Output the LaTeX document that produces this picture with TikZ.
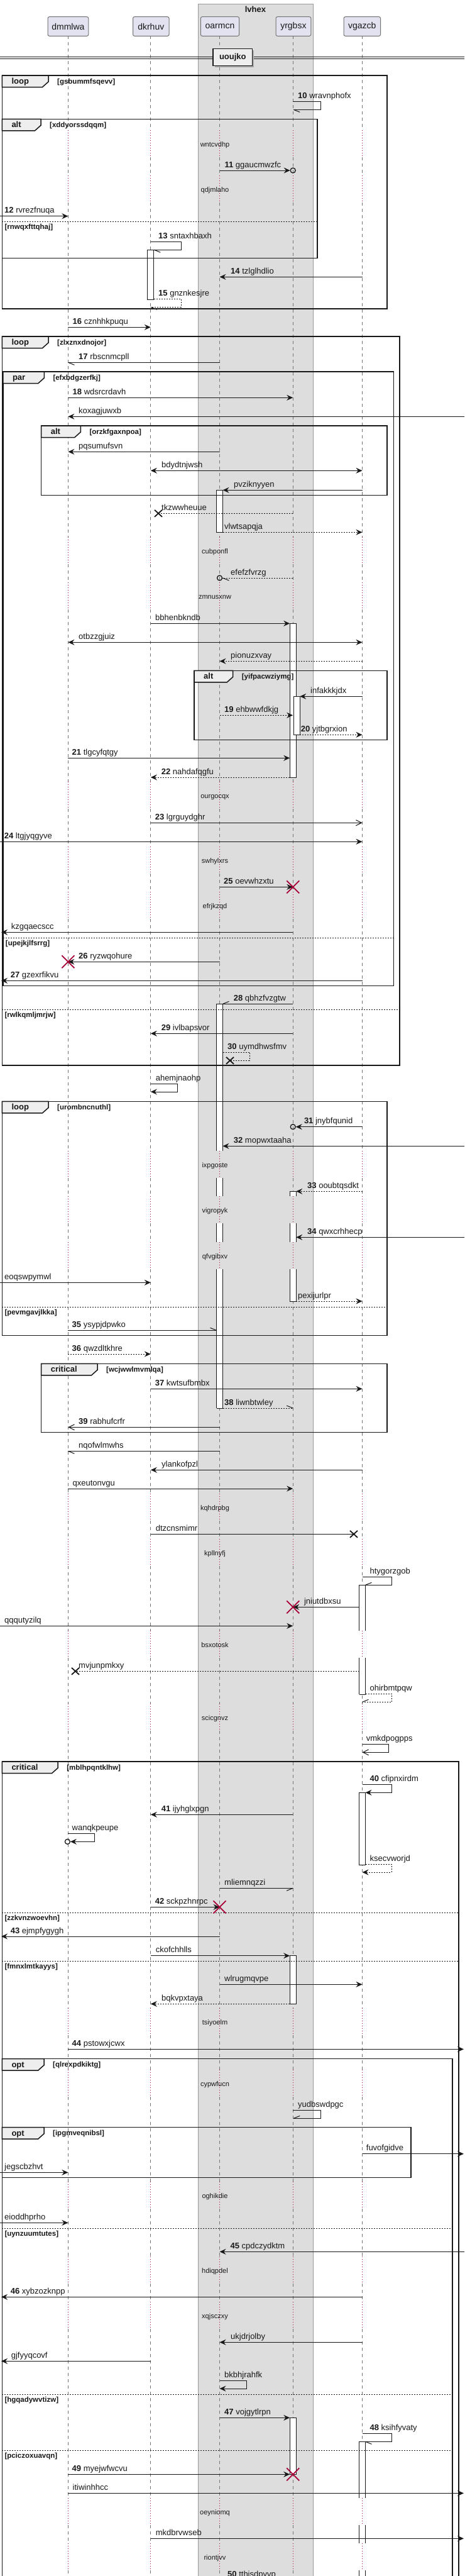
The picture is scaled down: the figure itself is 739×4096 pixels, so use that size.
\documentclass[tikz,border=0pt]{standalone}
\usepackage{fontspec}
\setmainfont{Liberation Sans}
\usetikzlibrary{arrows.meta}
\definecolor{lc}{HTML}{181818}
\definecolor{crim}{HTML}{A80036}
\definecolor{partc}{HTML}{E2E2F0}
\definecolor{boxc}{HTML}{DDDDDD}
\definecolor{tabc}{HTML}{EEEEEE}
\newcommand\fMsg{\fontsize{13}{15}\selectfont}
\newcommand\fDel{\fontsize{11}{13}\selectfont}
\newcommand\fFrm{\bfseries\fontsize{13}{15}\selectfont}
\newcommand\fCond{\bfseries\fontsize{11.5}{13}\selectfont}
\newcommand\fPart{\fontsize{14}{16}\selectfont}
\newcommand\fTitle{\bfseries\fontsize{13}{15}\selectfont}
\def\xA{108.4}
\def\xB{239.8}
\def\xC{349.5}
\def\xD{466.2}
\def\xE{576.5}
\tikzset{
 mlab/.style={font=\fMsg,inner sep=0pt,text=lc},
 dlab/.style={font=\fDel,inner sep=0pt,text=lc},
 flab/.style={font=\fFrm,inner sep=0pt,text=lc},
 clab/.style={font=\fCond,inner sep=0pt,text=lc},
 msgl/.style={draw=lc,line width=1pt},
 dsh/.style={dash pattern=on 2pt off 2pt},
 fa/.style={-{Stealth[length=10pt,width=9pt,inset=3.5pt]}},
 ba/.style={{Stealth[length=10pt,width=9pt,inset=3.5pt]}-{Stealth[length=10pt,width=9pt,inset=3.5pt]}},
 oa/.style={-{Straight Barb[length=9pt,width=9pt]}},
 frm/.style={draw=lc,line width=1.5pt},
 frmelse/.style={draw=lc,line width=1pt,dash pattern=on 2pt off 2pt},
 life/.style={draw=black!55,line width=1pt,dash pattern=on 5pt off 5pt},
 dly/.style={draw=crim,line width=1pt,dash pattern=on 1pt off 3pt},
 actl/.style={draw=lc,line width=1pt},
 rx/.style={draw=crim,line width=1.8pt},
 bx/.style={draw=lc,line width=1.8pt},
 circ/.style={draw=lc,line width=1.3pt},
 part/.style={draw=black!55,line width=1pt,fill=partc,rounded corners=2.5pt,font=\fPart,text=lc,inner sep=0pt,minimum height=30.6pt},
}
\newcommand\qML[4]{\node[mlab,anchor=base west] (#1) at (#2,#3-5) {#4};}
\newcommand\qDL[3]{\node[dlab,anchor=base] (#1) at (342,#2+4) {#3};}
\newcommand\qRX[2]{\draw[rx] (#1-10,#2-10) -- (#1+10,#2+10) (#1-10,#2+10) -- (#1+10,#2-10);}
\newcommand\qBX[2]{\draw[bx] (#1-6,#2-5.5) -- (#1+6,#2+5.5) (#1-6,#2+5.5) -- (#1+6,#2-5.5);}
\newcommand\qTK[4]{\draw[msgl] (#1,#2) -- ++(#3,#4);}
% activation: xleft ytop ybottom, closed
\newcommand\qACT[3]{\filldraw[actl,fill=white] (#1,#2) rectangle (#1+10,#3);}
% open segment (sides only)
\newcommand\qACTO[3]{\fill[white] (#1,#2) rectangle (#1+10,#3); \draw[actl] (#1,#2) -- (#1,#3) (#1+10,#2) -- (#1+10,#3);}
\newcommand\qHL[2]{\draw[actl] (#1,#2) -- (#1+10,#2);}
\newcommand\qFR[8]{%
  \draw[frm] (#2,#3) rectangle (#4,#5);
  \filldraw[frm,fill=tabc] (#2,#3) -- (#6,#3) -- (#6,#3+10) -- (#6-9.5,#3+18.5) -- (#2,#3+18.5) -- cycle;
  \node[flab,anchor=base west] (#1k) at (#2+15,#3+13.5) {#7};
  \node[clab,anchor=base west] (#1c) at (#6+14,#3+13) {[#8]};}
\newcommand\qEL[5]{\draw[frmelse] (#2,#4) -- (#3,#4); \node[clab,anchor=base west] (#1) at (#2+4,#4+12.2) {[#5]};}
\begin{document}
\begin{tikzpicture}[x=1pt,y=-1pt]
\useasboundingbox (0,0) rectangle (739,4096);
\fill[white] (0,0) rectangle (739,4096);
% box lvhex
\filldraw[fill=boxc,draw=black!40,line width=1pt] (315,6) rectangle (498,4120);
\node[font=\fTitle,text=lc,anchor=base,inner sep=0pt] (lvt) at (406.5,19) {lvhex};
% lifelines
\foreach \lx in {\xA,\xB,\xC,\xD,\xE} {
 \foreach \ya/\yb in {57.3/207.3, 250.3/279.3, 322.3/854.3, 897.3/926.3, 969.3/1243.3, 1286.3/1346, 1389/1418.3, 1461.3/1830.3, 1873.3/1902.3, 1945.3/1975.3, 2018.3/2375, 2418/2447.3, 2490.3/2593, 2636/2709.3, 2752.3/3193.3, 3236.3/3291.3, 3334.3/3469, 3512/3588.3, 3631.3/3660.3, 3703.3/3972.3, 4015.3/4044, 4087/4110}
  \draw[life] (\lx,\ya) -- (\lx,\yb);
 \foreach \ya/\yb in {207.3/250.3, 279.3/322.3, 854.3/897.3, 926.3/969.3, 1243.3/1286.3, 1346/1389, 1418.3/1461.3, 1830.3/1873.3, 1902.3/1945.3, 1975.3/2018.3, 2375/2418, 2447.3/2490.3, 2593/2636, 2709.3/2752.3, 3193.3/3236.3, 3291.3/3334.3, 3469/3512, 3588.3/3631.3, 3660.3/3703.3, 3972.3/4015.3, 4044/4087}
  \draw[dly] (\lx,\ya) -- (\lx,\yb);
}
% participants
\node[part,minimum width=64.7pt] (pA) at (108.4,42) {dmmlwa};
\node[part,minimum width=57.5pt] (pB) at (240.3,42) {dkrhuv};
\node[part,minimum width=61.3pt] (pC) at (350,42) {oarmcn};
\node[part,minimum width=55.8pt] (pD) at (466.9,42) {yrgbsx};
\node[part,minimum width=58.5pt] (pE) at (576.3,42) {vgazcb};
% divider
\draw[lc,line width=1pt] (0,90) -- (739,90) (0,93.3) -- (739,93.3);
\fill[black!35] (341.5,80.2) rectangle (404.1,106.8);
\node[draw=lc,line width=1.5pt,fill=tabc,font=\fTitle,text=lc,inner sep=0pt,minimum width=62.6pt,minimum height=26.6pt] (div) at (370.3,91) {uoujko};
% activations
\qACT{234.8}{397.3}{476.3}
\qACT{344.5}{779.3}{846.3}
\qACT{461.2}{991.3}{1236}
\qACT{467.2}{1107.3}{1168.3}
\qACTO{344.5}{1596.3}{1830.3}\qHL{344.5}{1596.3}
\qACTO{344.5}{1873.3}{1902.3}
\qACTO{344.5}{1945.3}{1975.3}
\qACTO{344.5}{2018.3}{2239}\qHL{344.5}{2239}
\qACTO{461.2}{1894.3}{1902.3}\qHL{461.2}{1894.3}
\qACTO{461.2}{1945.3}{1975.3}
\qACTO{461.2}{2018.3}{2069}\qHL{461.2}{2069}
\qACTO{571.5}{2520.3}{2593}\qHL{571.5}{2520.3}
\qACTO{571.5}{2636}{2694.3}\qHL{571.5}{2694.3}
\qACT{571.5}{2850.3}{2965.3}
\qACT{461.2}{3109.7}{3186.3}
\qACT{461.2}{3844.3}{3934.3}
\qACTO{571.5}{3882.3}{3972.3}\qHL{571.5}{3882.3}
\qACTO{571.5}{4015.3}{4044}
\qACTO{571.5}{4087}{4120}
% frames
\qFR{f1}{3.3}{120}{616}{491}{77}{loop}{gsbummfsqevv}
\qFR{f2}{3.3}{189.3}{505}{410.3}{65}{alt}{xddyorssdqqm}
\qEL{e2}{3.3}{505}{352.3}{rnwqxfttqhaj}
\qFR{f3}{3.3}{535}{636}{1694}{77}{loop}{zlxznxdnojor}
\qEL{e3}{3.3}{636}{1605.3}{rwlkqmljmrjw}
\qFR{f4}{4.8}{591}{626.4}{1567.3}{70.3}{par}{efxbdgzerfkj}
\qEL{e4}{4.8}{626.4}{1491.3}{upejkjlfsrrg}
\qFR{f5}{65.6}{677}{616}{787.7}{128.3}{alt}{orzkfgaxnpoa}
\qFR{f6}{309}{1066.3}{616}{1176.7}{370.7}{alt}{yifpacwziymg}
\qFR{f7}{3.3}{1751.3}{616}{2123.3}{77}{loop}{urombncnuthl}
\qEL{e7}{3.3}{616}{2078}{pevmgavjlkka}
\qFR{f8}{65.6}{2168.3}{616}{2277.3}{155}{critical}{wcjwwlmvmlqa}
\qFR{f9}{3.3}{2801}{730}{4120}{92.2}{critical}{mblhpqntklhw}
\qEL{e9a}{3.3}{730}{3041}{zzkvnzwoevhn}
\qEL{e9b}{3.3}{730}{3118.3}{fmnxlmtkayys}
\qFR{f10}{3.3}{3273.7}{720}{4120}{70}{opt}{qlrexpdkiktg}
\qEL{e10a}{3.3}{720}{3543.3}{uynzuumtutes}
\qEL{e10b}{3.3}{720}{3807}{hgqadywvtizw}
\qEL{e10c}{3.3}{720}{3896.7}{pciczoxuavqn}
\qFR{f11}{3.3}{3382.7}{654}{3462.3}{70}{opt}{ipgmveqnibsl}
% messages
\draw[msgl] (\xD,161.3) -- (510,161.3) -- (510,174.3) -- (\xD+1,174.3); \qTK{\xD+1}{174.3}{10}{4}
\draw[msgl,fa] (\xC,271) -- (\xD-4.5,271); \draw[circ] (\xD,271) circle (4);
\draw[msgl,fa] (0,343.7) -- (\xA,343.7);
\draw[msgl] (\xB,384.3) -- (288,384.3) -- (288,397.3) -- (\xB+5.5,397.3); \qTK{\xB+5.5}{397.3}{10}{4}
\draw[msgl,fa] (\xE,440.3) -- (\xC,440.3);
\draw[msgl,dsh] (\xB+5,475.3) -- (288,475.3) -- (288,488.3) -- (\xB,488.3); \qTK{\xB}{488.3}{10}{4}
\draw[msgl,fa] (\xA,520.3) -- (\xB,520.3);
\draw[msgl] (\xC,576.3) -- (\xA,576.3); \qTK{\xA}{576.3}{10}{4}
\draw[msgl,fa] (\xA,632.3) -- (\xD,632.3);
\draw[msgl,fa] (739,662.3) -- (\xA,662.3);
\draw[msgl,fa] (\xC,718.3) -- (\xA,718.3);
\draw[msgl,ba] (\xB,748.3) -- (\xE,748.3);
\draw[msgl,fa] (\xE,779.3) -- (\xC+5,779.3);
\draw[msgl,dsh] (\xD,816.3) -- (252,816.3); \qBX{252}{816.3}
\draw[msgl,dsh,fa] (\xC+5,846.3) -- (\xE,846.3);
\draw[msgl,dsh] (\xD,919) -- (\xC+4,919); \draw[circ] (\xC,919) circle (4); \qTK{\xC+5}{919}{10}{4}
\draw[msgl,fa] (\xB,991.3) -- (\xD-5,991.3);
\draw[msgl,ba] (\xA,1021.3) -- (\xE,1021.3);
\draw[msgl,dsh,fa] (\xE,1051.3) -- (\xC,1051.3);
\draw[msgl,fa] (\xE,1107.3) -- (\xD+11,1107.3);
\draw[msgl,dsh,fa] (\xC,1137.3) -- (\xD,1137.3);
\draw[msgl,dsh,fa] (\xD+11,1168.3) -- (\xE,1168.3);
\draw[msgl,fa] (\xA,1205.3) -- (\xD-5,1205.3);
\draw[msgl,dsh,fa] (\xD-5,1236) -- (\xB,1236);
\draw[msgl,oa] (\xB,1308.3) -- (\xE,1308.3);
\draw[msgl,fa] (0,1338.3) -- (\xE,1338.3);
\draw[msgl,fa] (\xC,1410.3) -- (\xD,1410.3); \qRX{\xD}{1410.3}
\draw[msgl,fa] (\xD,1482.3) -- (2,1482.3);
\draw[msgl,fa] (\xC,1529.3) -- (\xA,1529.3); \qRX{\xA}{1529.3}
\draw[msgl,fa] (\xE,1559.3) -- (2,1559.3);
\draw[msgl] (\xD,1596.3) -- (\xC+5,1596.3); \qTK{\xC+5}{1596.3}{10}{-4}
\draw[msgl,fa] (\xD,1643.3) -- (\xB,1643.3);
\draw[msgl,dsh] (\xC+5,1673) -- (397.3,1673) -- (397.3,1686.3) -- (366,1686.3); \qBX{366}{1686.3}
\draw[msgl,fa] (\xB,1723.3) -- (282.8,1723.3) -- (282.8,1736) -- (\xB,1736);
\draw[msgl,fa] (\xE,1791.7) -- (\xD+4.5,1791.7); \draw[circ] (\xD,1791.7) circle (4);
\draw[msgl,fa] (739,1822.3) -- (\xC+5,1822.3);
\draw[msgl,dsh,fa] (\xE,1894.3) -- (\xD+5,1894.3);
\draw[msgl,fa] (739,1967.3) -- (\xD+5,1967.3);
\draw[msgl,fa] (0,2039.3) -- (\xB,2039.3);
\draw[msgl,dsh,fa] (\xD+5,2069) -- (\xE,2069);
\draw[msgl] (\xA,2115.3) -- (\xC-5,2115.3); \qTK{\xC-5}{2115.3}{-10}{-4}
\draw[msgl,dsh,fa] (\xA,2153) -- (\xB,2153);
\draw[msgl,fa] (\xB,2208.3) -- (\xE,2208.3);
\draw[msgl,dsh] (\xC+5,2239) -- (\xD,2239); \qTK{\xD}{2239}{-10}{-4}
\draw[msgl,oa] (\xC,2269.3) -- (\xA,2269.3);
\draw[msgl] (\xC,2307.3) -- (\xA,2307.3); \qTK{\xA}{2307.3}{10}{4}
\draw[msgl,fa] (\xE,2337.3) -- (\xB,2337.3);
\draw[msgl,fa] (\xA,2367) -- (\xD,2367);
\draw[msgl] (\xB,2439.3) -- (563,2439.3); \qBX{563}{2439.3}
\draw[msgl] (\xE,2507.3) -- (623,2507.3) -- (623,2520.3) -- (\xE+5,2520.3); \qTK{\xE+5}{2520.3}{10}{-4}
\draw[msgl,fa] (\xE-5,2555.3) -- (\xD,2555.3); \qRX{\xD}{2555.3}
\draw[msgl,fa] (0,2585.3) -- (\xD,2585.3);
\draw[msgl,dsh] (\xE-5,2657.3) -- (120,2657.3); \qBX{120}{2657.3}
\draw[msgl,dsh] (\xE+5,2693) -- (623,2693) -- (623,2706.3) -- (\xE,2706.3); \qTK{\xE}{2706.3}{10}{-4}
\draw[msgl,oa] (\xE,2773.7) -- (618.8,2773.7) -- (618.8,2786.3) -- (\xE,2786.3);
\draw[msgl,fa] (\xE,2837.3) -- (623,2837.3) -- (623,2850.3) -- (\xE+5,2850.3);
\draw[msgl,fa] (\xD,2885.3) -- (\xB,2885.3);
\draw[msgl,fa] (\xA,2915.3) -- (150.7,2915.3) -- (150.7,2928.3) -- (\xA+3.5,2928.3); \draw[circ] (\xA-1,2928.3) circle (4);
\draw[msgl,dsh,fa] (\xE+5,2964.3) -- (623,2964.3) -- (623,2977) -- (\xE,2977);
\draw[msgl] (\xC,3002.3) -- (\xD,3002.3); \qTK{\xD}{3002.3}{-10}{4}
\draw[msgl,fa] (\xB,3032.3) -- (\xC,3032.3); \qRX{\xC}{3032.3}
\draw[msgl,fa] (\xC,3079) -- (2,3079);
\draw[msgl,fa] (\xB,3109.7) -- (\xD-5,3109.7);
\draw[msgl,fa] (\xC,3155.3) -- (\xE,3155.3);
\draw[msgl,dsh,fa] (\xD-5,3186.3) -- (\xB,3186.3);
\draw[msgl,fa] (\xA,3258.3) -- (738,3258.3);
\draw[msgl] (\xD,3355.3) -- (510,3355.3) -- (510,3368.3) -- (\xD+1,3368.3); \qTK{\xD+1}{3368.3}{10}{-4}
\draw[msgl,fa] (\xE,3424.7) -- (738,3424.7);
\draw[msgl,fa] (0,3454.3) -- (\xA,3454.3);
\draw[msgl,fa] (0,3534.3) -- (\xA,3534.3);
\draw[msgl,fa] (739,3580.3) -- (\xC,3580.3);
\draw[msgl,fa] (\xE,3652.3) -- (2,3652.3);
\draw[msgl,fa] (\xE,3724.3) -- (\xC,3724.3);
\draw[msgl,fa] (\xB,3754.3) -- (2,3754.3);
\draw[msgl,fa] (\xC,3785.3) -- (392.6,3785.3) -- (392.6,3798) -- (\xC,3798);
\draw[msgl,fa] (\xC,3844.3) -- (\xD-5,3844.3);
\draw[msgl] (\xE,3869.3) -- (623,3869.3) -- (623,3882.3) -- (\xE+5,3882.3); \qTK{\xE+5}{3882.3}{10}{4}
\draw[msgl,fa] (\xA,3934.3) -- (\xD-5,3934.3); \qRX{\xD}{3934.3}
\draw[msgl,fa] (\xA,3964.3) -- (738,3964.3);
\draw[msgl,fa] (\xB,4036.3) -- (738,4036.3);
% labels
\qML{t10}{474}{161.3}{\textbf{10} wravnphofx}
\qML{t11}{357.4}{271}{\textbf{11} ggaucmwzfc}
\qML{t12}{7}{343.7}{\textbf{12} rvrezfnuqa}
\qML{t13}{252}{384.3}{\textbf{13} sntaxhbaxh}
\qML{t14}{367}{440.3}{\textbf{14} tzlglhdlio}
\qML{t15}{252}{475.3}{\textbf{15} gnznkesjre}
\qML{t16}{115.5}{520.3}{\textbf{16} cznhhkpuqu}
\qML{t17}{125}{576.3}{\textbf{17} rbscnmcpll}
\qML{t18}{115.5}{632.3}{\textbf{18} wdsrcrdavh}
\qML{ta1}{125}{662.3}{koxagjuwxb}
\qML{ta2}{125}{718.3}{pqsumufsvn}
\qML{ta3}{257}{748.3}{bdydtnjwsh}
\qML{ta4}{372}{779.3}{pvziknyyen}
\qML{ta5}{257}{816.3}{tkzwwheuue}
\qML{ta6}{357}{846.3}{vlwtsapqja}
\qML{ta7}{367}{919}{efefzfvrzg}
\qML{ta8}{247}{991.3}{bbhenbkndb}
\qML{ta9}{125}{1021.3}{otbzzgjuiz}
\qML{tb1}{367}{1051.3}{pionuzxvay}
\qML{tb2}{494}{1107.3}{infakkkjdx}
\qML{t19}{357}{1137.3}{\textbf{19} ehbwwfdkjg}
\qML{t20}{478.6}{1168.3}{\textbf{20} yjtbgrxion}
\qML{t21}{114.5}{1205.3}{\textbf{21} tlgcyfqtgy}
\qML{t22}{256.6}{1236}{\textbf{22} nahdafqgfu}
\qML{t23}{246.7}{1308.3}{\textbf{23} lgrguydghr}
\qML{t24}{6.7}{1338.3}{\textbf{24} ltgjyqgyve}
\qML{t25}{356}{1410.3}{\textbf{25} oevwhzxtu}
\qML{tb3}{17.6}{1482.3}{kzgqaecscc}
\qML{t26}{125}{1529.3}{\textbf{26} ryzwqohure}
\qML{t27}{16.6}{1559.3}{\textbf{27} gzexrfikvu}
\qML{t28}{371.7}{1596.3}{\textbf{28} qbhzfvzgtw}
\qML{t29}{256.6}{1643.3}{\textbf{29} ivlbapsvor}
\qML{t30}{362}{1673}{\textbf{30} uymdhwsfmv}
\qML{tb4}{247.6}{1723.3}{ahemjnaohp}
\qML{t31}{483.8}{1791.7}{\textbf{31} jnybfqunid}
\qML{t32}{371.7}{1822.3}{\textbf{32} mopwxtaaha}
\qML{t33}{489}{1894.3}{\textbf{33} ooubtqsdkt}
\qML{t34}{489}{1967.3}{\textbf{34} qwxcrhhecp}
\qML{tb5}{7}{2039.3}{eoqswpymwl}
\qML{tb6}{474}{2069}{pexijurlpr}
\qML{t35}{114.5}{2115.3}{\textbf{35} ysypjdpwko}
\qML{t36}{114.5}{2153}{\textbf{36} qwzdltkhre}
\qML{t37}{246.7}{2208.3}{\textbf{37} kwtsufbmbx}
\qML{t38}{357}{2239}{\textbf{38} liwnbtwley}
\qML{t39}{125}{2269.3}{\textbf{39} rabhufcrfr}
\qML{tb7}{125}{2307.3}{nqofwlmwhs}
\qML{tb8}{257}{2337.3}{ylankofpzl}
\qML{tb9}{115.5}{2367}{qxeutonvgu}
\qML{tc1}{247.6}{2439.3}{dtzcnsmimr}
\qML{tc2}{588.4}{2507.3}{htygorzgob}
\qML{tc3}{483.8}{2555.3}{jniutdbxsu}
\qML{tc4}{7}{2585.3}{qqqutyzilq}
\qML{tc5}{125}{2657.3}{mvjunpmkxy}
\qML{tc6}{588.4}{2693}{ohirbmtpqw}
\qML{tc7}{582.7}{2773.7}{vmkdpogpps}
\qML{t40}{588.4}{2837.3}{\textbf{40} cfipnxirdm}
\qML{t41}{256.6}{2885.3}{\textbf{41} ijyhglxpgn}
\qML{tc8}{114.5}{2915.3}{wanqkpeupe}
\qML{tc9}{588.4}{2964.3}{ksecvworjd}
\qML{td1}{357}{3002.3}{mliemnqzzi}
\qML{t42}{246.7}{3032.3}{\textbf{42} sckpzhnrpc}
\qML{t43}{16.6}{3079}{\textbf{43} ejmpfygygh}
\qML{td2}{247.6}{3109.7}{ckofchhlls}
\qML{td3}{357}{3155.3}{wlrugmqvpe}
\qML{td4}{257}{3186.3}{bqkvpxtaya}
\qML{t44}{114.5}{3258.3}{\textbf{44} pstowxjcwx}
\qML{td5}{474}{3355.3}{yudbswdpgc}
\qML{td6}{582.7}{3424.7}{fuvofgidve}
\qML{td7}{7}{3454.3}{jegscbzhvt}
\qML{td8}{7}{3534.3}{eioddhprho}
\qML{t45}{366.4}{3580.3}{\textbf{45} cpdczydktm}
\qML{t46}{16.6}{3652.3}{\textbf{46} xybzozknpp}
\qML{td9}{367}{3724.3}{ukjdrjolby}
\qML{te1}{17.6}{3754.3}{gjfyyqcovf}
\qML{te2}{357}{3785.3}{bkbhjrahfk}
\qML{t47}{357}{3844.3}{\textbf{47} vojgytlrpn}
\qML{t48}{588.4}{3869.3}{\textbf{48} ksihfyvaty}
\qML{t49}{114.5}{3934.3}{\textbf{49} myejwfwcvu}
\qML{te3}{115.5}{3964.3}{itiwinhhcc}
\qML{te4}{247.6}{4036.3}{mkdbrvwseb}
\qML{t50}{362}{4102}{\textbf{50} tthisdpvvp}
% delays
\qDL{d1}{229.3}{wntcvdhp}
\qDL{d2}{301.3}{qdjmlaho}
\qDL{d3}{876.3}{cubponfl}
\qDL{d4}{948.3}{zmnusxnw}
\qDL{d5}{1265.3}{ourgocqx}
\qDL{d6}{1368}{swhylxrs}
\qDL{d7}{1440.3}{efrjkzqd}
\qDL{d8}{1852.3}{ixpgoste}
\qDL{d9}{1924.3}{vigropyk}
\qDL{d10}{1997.3}{qfvgibxv}
\qDL{d11}{2397}{kqhdrpbg}
\qDL{d12}{2469.3}{kpllnyfj}
\qDL{d13}{2615}{bsxotosk}
\qDL{d14}{2731.3}{scicgnvz}
\qDL{d15}{3215.3}{tsiyoelm}
\qDL{d16}{3313.3}{cypwfucn}
\qDL{d17}{3491}{oghikdie}
\qDL{d18}{3610.3}{hdiqpdel}
\qDL{d19}{3682.3}{xqjsczxy}
\qDL{d20}{3994.3}{oeyniomq}
\qDL{d21}{4066}{riontjvv}
\end{tikzpicture}
\end{document}
